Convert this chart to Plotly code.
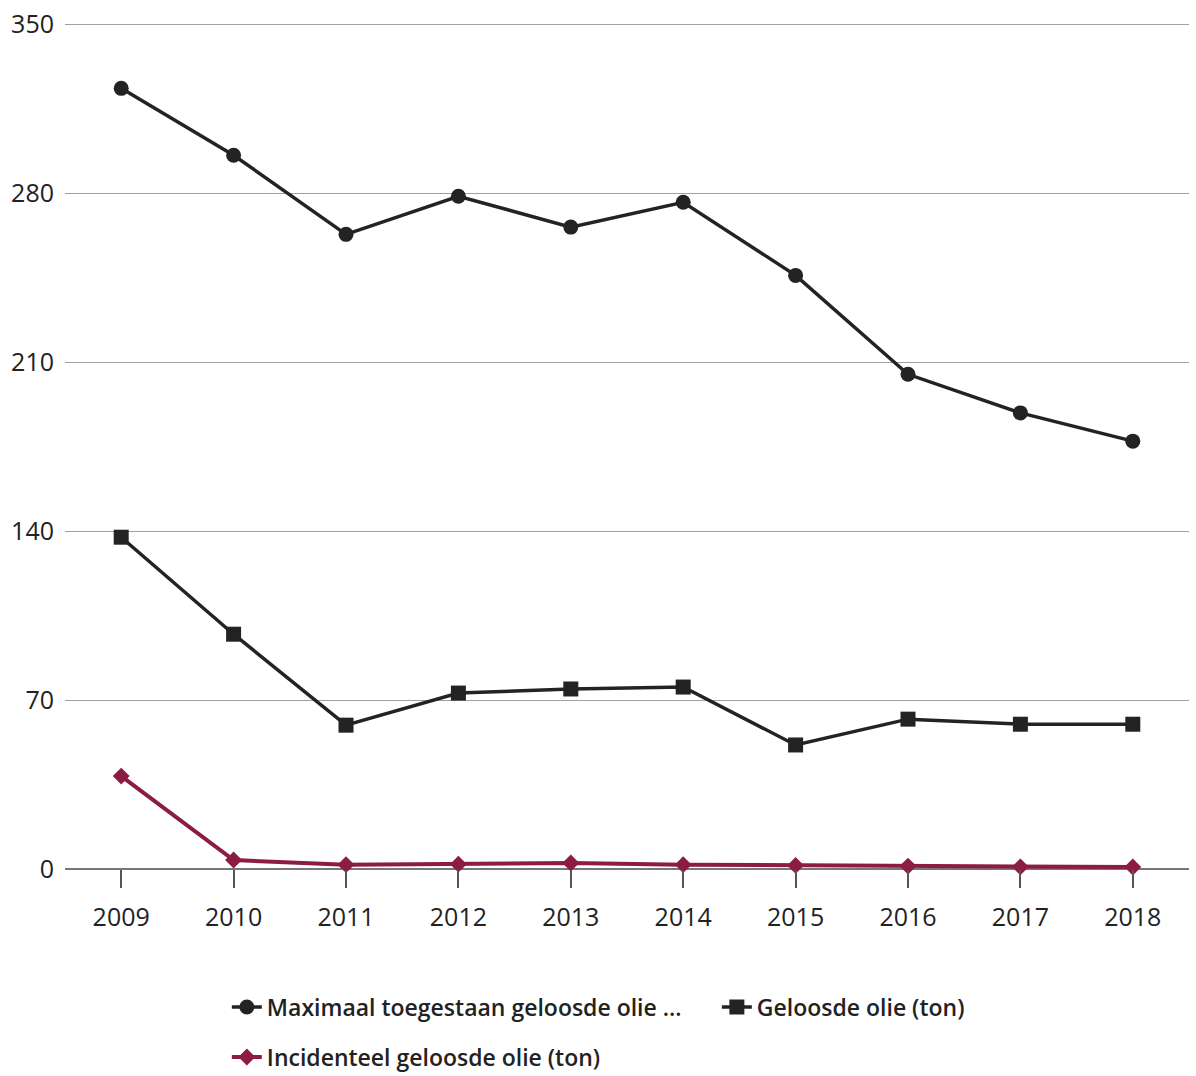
import plotly.graph_objects as go

years = ["2009", "2010", "2011", "2012", "2013", "2014", "2015", "2016", "2017", "2018"]
max_toegestaan = [323.5, 295.8, 263.0, 278.8, 266.0, 276.3, 246.0, 205.0, 189.0, 177.3]
geloosd = [137.5, 97.3, 59.6, 72.9, 74.6, 75.4, 51.4, 62.1, 60.0, 60.0]
incidenteel = [38.5, 3.7, 1.8, 2.0, 2.5, 1.8, 1.5, 1.2, 0.9, 0.8]
y_ticks = [0, 70, 140, 210, 280, 350]

names = ["Maximaal toegestaan geloosde olie ...", "Geloosde olie (ton)", "Incidenteel geloosde olie (ton)"]

dark = "#232323"
red = "#8c1d40"

fig = go.Figure()
fig.add_trace(go.Scatter(x=years, y=max_toegestaan, mode="lines+markers", name=names[0],
                         line=dict(color=dark, width=3.5), marker=dict(symbol="circle", size=15, color=dark),
                         cliponaxis=False, legend="legend"))
fig.add_trace(go.Scatter(x=years, y=geloosd, mode="lines+markers", name=names[1],
                         line=dict(color=dark, width=3.5), marker=dict(symbol="square", size=15, color=dark),
                         cliponaxis=False, legend="legend"))
fig.add_trace(go.Scatter(x=years, y=incidenteel, mode="lines+markers", name=names[2],
                         line=dict(color=red, width=4), marker=dict(symbol="diamond", size=13, color=red),
                         cliponaxis=False, legend="legend2"))

font_family = "Open Sans, Noto Sans, sans-serif"
legend_font = dict(size=23, family=font_family, weight=600, color="#222222")

fig.update_layout(
    width=1196, height=1076,
    margin=dict(l=65, r=7, t=22, b=207, autoexpand=False),
    paper_bgcolor="white", plot_bgcolor="white",
    font=dict(family=font_family, color="#222222"),
    xaxis=dict(
        type="category", range=[-0.5, 9.5],
        showgrid=False, showline=False, zeroline=False,
        ticks="outside", ticklen=18, tickwidth=1.5, tickcolor="#555555",
        tickfont=dict(size=25, color="#222222"),
        ticklabelstandoff=8,
        automargin=False,
    ),
    yaxis=dict(
        range=[0, 351], tickvals=y_ticks,
        showgrid=True, gridcolor="#a0a0a0", gridwidth=1.2,
        zeroline=True, zerolinecolor="#777777", zerolinewidth=1.5,
        showline=False, ticks="",
        tickfont=dict(size=25, color="#222222"),
        ticklabelstandoff=10,
        ticklabeloverflow="allow",
        automargin=False,
    ),
    legend=dict(orientation="h", x=0.144, xanchor="left", y=-0.163, yanchor="middle",
                font=legend_font, entrywidth=445, bgcolor="rgba(0,0,0,0)", itemwidth=30),
    legend2=dict(orientation="h", x=0.144, xanchor="left", y=-0.222, yanchor="middle",
                 font=legend_font, bgcolor="rgba(0,0,0,0)", itemwidth=30),
    showlegend=True,
)

fig.write_html("out.html",
               config={"displayModeBar": False},
               post_script="document.body.style.margin='0';document.body.style.overflow='hidden';")
